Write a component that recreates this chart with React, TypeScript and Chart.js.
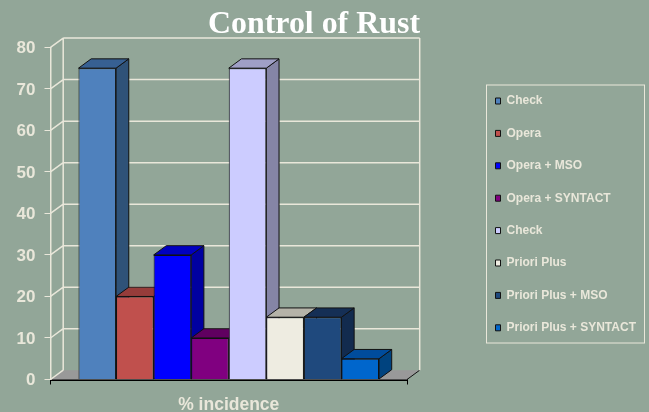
import React, { useEffect, useRef } from "react";
import { Chart, registerables } from "chart.js";

Chart.register(...registerables);

const categories = [""];
const seriesNames = [
  "Check",
  "Opera",
  "Opera + MSO",
  "Opera + SYNTACT",
  "Check",
  "Priori Plus",
  "Priori Plus + MSO",
  "Priori Plus + SYNTACT",
];
const seriesValues = [75, 20, 30, 10, 75, 15, 15, 5];
const frontColors = ["#4f81bd", "#c0504d", "#0000ff", "#800080", "#ccccff", "#eeece1", "#1f497d", "#0066cc"];
const topColors = ["#376092", "#963c3a", "#0000c0", "#600060", "#9f9fc6", "#b5b3a8", "#152f55", "#004c9c"];
const sideColors = ["#2f5278", "#7c3432", "#0000a0", "#500050", "#8585a6", "#9b9a92", "#122b4e", "#00437f"];

const BG = "#92a698";
const CREAM = "#e9e7da";
const DX = 12.7;
const DY = 9.3;

const depthPlugin = {
  id: "depth3d",
  afterLayout(chart: any) {
    const t = chart.titleBlock;
    if (t) {
      t.left = 208;
      t.right = 420;
      t.width = 212;
      t.top = 5.5;
      t.bottom = 47;
    }
    const l = chart.legend;
    if (l) {
      l.left = 475.1;
      l.right = 649;
      l.width = 173.9;
      l.top = 74.6;
      l.bottom = 361;
      l.height = 286.4;
    }
  },
  beforeDatasetsDraw(chart: any) {
    const { ctx, chartArea, scales } = chart;
    const { left, right, top, bottom } = chartArea;
    const y = scales.y;
    ctx.save();
    // floor
    ctx.fillStyle = "#999999";
    ctx.beginPath();
    ctx.moveTo(left, bottom);
    ctx.lineTo(right, bottom);
    ctx.lineTo(right + DX, bottom - DY);
    ctx.lineTo(left + DX, bottom - DY);
    ctx.closePath();
    ctx.fill();
    ctx.strokeStyle = "#111111";
    ctx.lineWidth = 1;
    ctx.beginPath();
    ctx.moveTo(right, bottom);
    ctx.lineTo(right + DX, bottom - DY);
    ctx.stroke();
    // walls + grid
    ctx.strokeStyle = CREAM;
    ctx.lineWidth = 1.5;
    ctx.beginPath();
    ctx.moveTo(left + DX, bottom - DY);
    ctx.lineTo(left + DX, top - DY);
    ctx.moveTo(right + DX, bottom - DY);
    ctx.lineTo(right + DX, top - DY);
    y.ticks.forEach((t: any) => {
      const p = y.getPixelForValue(t.value);
      if (t.value !== 0) {
        ctx.moveTo(left + DX, p - DY);
        ctx.lineTo(right + DX, p - DY);
      }
      ctx.moveTo(left, p);
      ctx.lineTo(left + DX, p - DY);
    });
    ctx.stroke();
    // bar extrusions, left to right
    ctx.strokeStyle = "#111111";
    ctx.lineWidth = 1;
    chart.data.datasets.forEach((_: any, i: number) => {
      const bar = chart.getDatasetMeta(i).data[0];
      const x0 = bar.x - bar.width / 2;
      const x1 = bar.x + bar.width / 2;
      ctx.fillStyle = sideColors[i];
      ctx.beginPath();
      ctx.moveTo(x1, bar.y);
      ctx.lineTo(x1 + DX, bar.y - DY);
      ctx.lineTo(x1 + DX, bar.base - DY);
      ctx.lineTo(x1, bar.base);
      ctx.closePath();
      ctx.fill();
      ctx.stroke();
      ctx.fillStyle = topColors[i];
      ctx.beginPath();
      ctx.moveTo(x0, bar.y);
      ctx.lineTo(x0 + DX, bar.y - DY);
      ctx.lineTo(x1 + DX, bar.y - DY);
      ctx.lineTo(x1, bar.y);
      ctx.closePath();
      ctx.fill();
      ctx.stroke();
    });
    ctx.restore();
  },
  afterDraw(chart: any) {
    const { ctx } = chart;
    ctx.save();
    ctx.strokeStyle = CREAM;
    ctx.lineWidth = 1;
    ctx.strokeRect(486.5, 85, 158, 258);
    ctx.restore();
  },
};

export default function App() {
  const ref = useRef<HTMLCanvasElement | null>(null);

  useEffect(() => {
    document.body.style.margin = "0";
    document.body.style.background = BG;
    const chart = new Chart(ref.current as HTMLCanvasElement, {
      type: "bar",
      data: {
        labels: categories,
        datasets: seriesNames.map((name, i) => ({
          label: name,
          data: [seriesValues[i]],
          backgroundColor: frontColors[i],
          borderColor: "#111111",
          borderWidth: 1,
          categoryPercentage: 0.843,
          barPercentage: 1,
        })),
      },
      options: {
        responsive: false,
        animation: false,
        layout: { padding: { left: 0, right: 242, top: 0, bottom: 0 } },
        plugins: {
          tooltip: { enabled: false },
          title: {
            display: true,
            text: "Control of Rust",
            color: "#ffffff",
            font: { family: "'Liberation Serif'", size: 32, weight: "bold" },
            padding: { top: 0, bottom: 9 },
          },
          legend: {
            position: "chartArea" as any,
            align: "start",
            labels: {
              color: CREAM,
              font: { family: "'Liberation Sans'", size: 12, weight: "bold" },
              boxWidth: 5,
              boxHeight: 6,
              padding: 20.4,
            },
          },
        },
        scales: {
          x: {
            grid: { drawOnChartArea: false, color: "#000000", tickLength: 5, offset: true },
            border: { color: "#000000", width: 2 },
            ticks: { display: false },
            title: {
              display: true,
              text: "% incidence",
              color: CREAM,
              font: { family: "'Liberation Sans'", size: 17.5, weight: "bold", lineHeight: 1 },
              padding: { top: 0, bottom: -2 },
            },
            afterFit: (s: any) => {
              s.height = 32.5;
            },
          },
          y: {
            min: 0,
            max: 80,
            grid: { drawOnChartArea: false, color: CREAM, tickLength: 6 },
            border: { color: CREAM, width: 1.5 },
            ticks: {
              stepSize: 10,
              color: CREAM,
              padding: 9,
              labelOffset: 1,
              font: { family: "'Liberation Sans'", size: 17, weight: "bold" },
            },
            afterFit: (s: any) => {
              s.width = 50.5;
            },
          },
        },
      },
      plugins: [depthPlugin],
    } as any);
    return () => chart.destroy();
  }, []);

  return (
    <canvas
      ref={ref}
      width={649}
      height={412}
      style={{ display: "block", background: BG, filter: "blur(0.35px)" }}
    />
  );
}
